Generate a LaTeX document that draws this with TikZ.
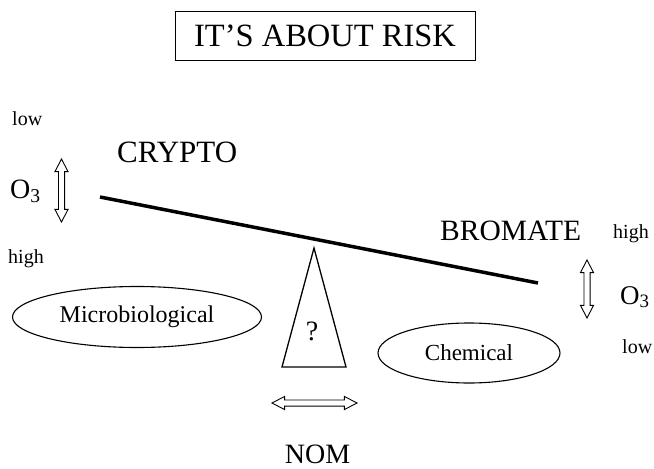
\documentclass[tikz,border=0pt]{standalone}
\usepackage{fontspec}
\setmainfont{Liberation Serif}
\usetikzlibrary{shapes.geometric,shapes.arrows}

\newcommand{\fsz}[1]{\fontsize{#1}{#1}\selectfont}
\newcommand{\ozone}{O\textsubscript{3}}

\tikzset{
  label text/.style={inner sep=0pt, anchor=base west},
  risk/.style={draw, ellipse, line width=1.1pt, inner sep=0pt},
  twoway/.style={draw, double arrow, line width=0.9pt,
    inner xsep=0pt, inner ysep=2.6pt,
    double arrow head extend=3.5pt, double arrow tip angle=55}
}

\begin{document}
\begin{tikzpicture}[x=1pt,y=-1pt]
  \useasboundingbox (0,0) rectangle (654,469);

  % heading
  \node[draw, line width=1pt, minimum width=300pt, minimum height=49pt,
        font=\fsz{32.5}] (title) at (325,35.5) {IT'S ABOUT RISK};

  % ozone dose, left
  \node[label text, font=\fsz{20}] (lowL) at (12,125) {low};
  \node[label text, font=\fsz{28}] (ozL) at (10,198) {\ozone};
  \node[label text, font=\fsz{20}] (highL) at (8,263) {high};
  \node[twoway, rotate=90, minimum height=63pt] (arrL) at (61.5,190.5) {};

  % ozone dose, right
  \node[label text, font=\fsz{20}] (highR) at (613,238) {high};
  \node[label text, font=\fsz{27}] (ozR) at (620,304) {\ozone};
  \node[label text, font=\fsz{20}] (lowR) at (622,353) {low};
  \node[twoway, rotate=90, minimum height=58pt] (arrR) at (587,289) {};

  % the balance
  \node[label text, font=\fsz{31}] (crypto) at (117,162) {CRYPTO};
  \node[label text, font=\fsz{29.5}] (bromate) at (440,240) {BROMATE};
  \coordinate (beamL) at (100,197);
  \coordinate (beamR) at (538,283);
  \draw[line width=3.5pt] (beamL) -- (beamR);

  \coordinate (apex) at (314,248);
  \coordinate (baseL) at (282,367);
  \coordinate (baseR) at (346,367);
  \draw[line width=1.3pt, line join=miter] (apex) -- (baseL) -- (baseR) -- cycle;
  \node[font=\fsz{28}, inner sep=0pt] (unknown) at (312,331) {?};

  % the two risks
  \node[risk, minimum width=249pt, minimum height=61pt, font=\fsz{24}]
    (micro) at (137,317) {Microbiological};
  \node[risk, minimum width=182pt, minimum height=60pt, font=\fsz{23}]
    (chem) at (469,353) {Chemical};

  % NOM
  \node[twoway, minimum height=85pt] (arrNOM) at (314.5,403) {};
  \node[font=\fsz{28}, inner sep=0pt, anchor=base] (nom) at (317.5,463) {NOM};
\end{tikzpicture}
\end{document}
